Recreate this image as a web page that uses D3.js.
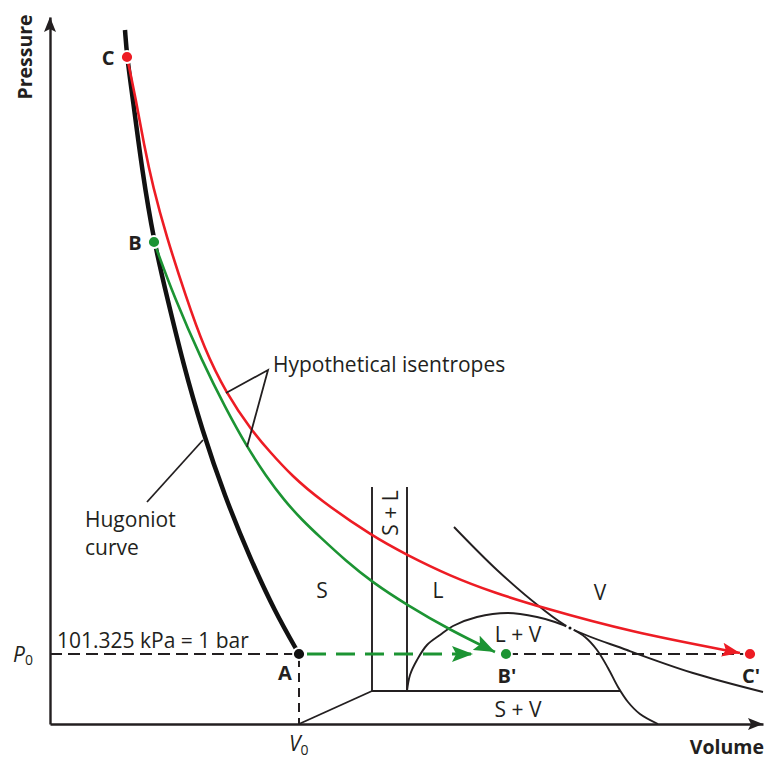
<!DOCTYPE html>
<html>
<head>
<meta charset="utf-8">
<script src="https://cdn.jsdelivr.net/npm/d3@7"></script>
<style>
  html, body { margin: 0; padding: 0; background: #fff; }
  svg { display: block; }
  text { font-family: "Open Sans", "Noto Sans", sans-serif; fill: #231f20; }
</style>
</head>
<body>
<div id="chart"></div>
<script>
// Schematic P–V diagram: Hugoniot curve, two release isentropes and the phase regions.
// Volume and pressure are in arbitrary units.

// Reference state A (ambient pressure P0, specific volume V0)
const P0 = 7.0;
const V0 = 24.9;

// Principal Hugoniot curve, ending at A
const hugoniot = [[7.5,69.4],[7.7,66.7],[8.3,62.4],[9.2,55.4],[10.4,48.2],[11.7,42.7],[13.3,36.1],
                  [15.2,29.4],[17.5,22.7],[20.0,16.6],[22.5,11.2],[V0,P0]];

// Release isentrope from C (red) and from B (green)
const isentropeC = [[7.7,66.7],[8.6,62.4],[9.4,57.9],[10.3,53.7],[11.6,48.9],[13.6,42.7],[15.4,37.6],
                    [17.6,33.1],[20.2,29.3],[22.0,27.2],[24.2,24.8],[27.0,22.4],[32.2,18.8],
                    [35.7,16.9],[40.0,14.8],[44.5,13.1],[49.0,11.7],[58.0,9.2],[69.0,7.1]];
const isentropeB = [[10.4,48.2],[12.4,42.7],[15.3,36.1],[17.5,31.7],[19.7,27.7],[21.6,24.8],
                    [23.4,22.4],[25.2,20.4],[27.0,18.7],[29.6,16.3],[32.2,14.2],[35.7,11.9],
                    [40.0,9.4],[44.5,7.2]];

// Named states
const states = [
  {name: "C",  v: 7.7,  p: 66.7, color: "#ed1c24", lv: 5.8,  lp: 65.9},
  {name: "B",  v: 10.4, p: 48.2, color: "#1c9433", lv: 8.5,  lp: 47.4},
  {name: "A",  v: V0,   p: P0,   color: "#111111", lv: 23.5, lp: 4.4},
  {name: "B'", v: 45.6, p: P0,   color: "#1c9433", lv: 45.7, lp: 4.1},
  {name: "C'", v: 70.0, p: P0,   color: "#ed1c24", lv: 70.1, lp: 4.1}
];

// Phase diagram
const criticalPoint = [52.0, 9.6];
const criticalIsotherm = [[40.4,19.7],[44.7,15.4],[49.0,11.7],criticalPoint,[57.7,7.4],[64.3,5.1],[71.3,3.2]];
const coexistenceDome = [[35.7,3.3],[36.0,4.9],[36.7,6.4],[37.7,7.9],[39.0,8.9],[40.3,9.8],[42.7,10.7],
                         [45.8,11.1],[48.7,10.7],[50.5,10.2],criticalPoint,[53.5,8.7],[54.7,7.4],
                         [55.8,5.6],[56.8,3.7],[57.8,2.2],[59.0,1.0],[60.8,0]];
const triplePressure = 3.3;
const meltingBounds = [32.2, 35.7];   // solidus / liquidus volumes
const meltingTop = 23.7;
const tripleLineEnd = 57.0;
const sublimation = [[V0,0],[32.2,3.3]];

const regionLabels = [
  {t: "S",     v: 27.2, p: 12.6},
  {t: "L",     v: 38.8, p: 12.6},
  {t: "V",     v: 55.0, p: 12.4},
  {t: "L + V", v: 46.8, p: 8.2},
  {t: "S + V", v: 46.8, p: 0.7}
];

// Annotation leaders
const isentropeLeader = [[17.6,33.1],[21.8,35.4],[19.7,27.7]];
const hugoniotLeader = [[9.7,22.2],[15.3,28.4]];

const width = 767, height = 759;
const RED = "#ed1c24", GREEN = "#1c9433", INK = "#231f20";

const x = d3.scaleLinear().domain([0, 71.3]).range([50, 763]);
const y = d3.scaleLinear().domain([0, 70.7]).range([724, 17]);

const svg = d3.select("#chart").append("svg")
  .attr("width", width).attr("height", height)
  .attr("viewBox", [0, 0, width, height]);

svg.append("rect").attr("width", width).attr("height", height).attr("fill", "#fff");

// Arrowhead markers
const defs = svg.append("defs");
function marker(id, color, len, half) {
  defs.append("marker")
    .attr("id", id)
    .attr("viewBox", `${-len} ${-half} ${len} ${2 * half}`)
    .attr("refX", 0).attr("refY", 0)
    .attr("markerWidth", len).attr("markerHeight", 2 * half)
    .attr("markerUnits", "userSpaceOnUse")
    .attr("orient", "auto")
    .append("path")
    .attr("d", `M${-len},${-half}L0,0L${-len},${half}L${-len * 0.8},0Z`)
    .attr("fill", color);
}
marker("arrow-red", RED, 18, 7);
marker("arrow-green", GREEN, 21, 8);

// Shock-state curves are drawn as smooth B-splines; phase boundaries pass through their points
const spline = d3.line().x(d => x(d[0])).y(d => y(d[1])).curve(d3.curveBasis);
const smooth = d3.line().x(d => x(d[0])).y(d => y(d[1])).curve(d3.curveCatmullRom.alpha(0.5));
const straight = d3.line().x(d => x(d[0])).y(d => y(d[1]));

// Axes (domain lines only) with arrowheads
svg.append("g").attr("transform", `translate(0,${y(0)})`)
  .call(d3.axisBottom(x).tickValues([]).tickSizeOuter(0));
svg.append("g").attr("transform", `translate(${x(0)},0)`)
  .call(d3.axisLeft(y).tickValues([]).tickSizeOuter(0));
svg.selectAll(".domain").attr("stroke", INK).attr("stroke-width", 2.4);

svg.append("path")
  .attr("d", `M${x(71.3)},${y(0)}l-15,-6l3,6l-3,6Z`).attr("fill", INK);
svg.append("path")
  .attr("d", `M${x(0)},${y(70.7)}l-6,15l6,-3l6,3Z`).attr("fill", INK);

// Phase boundaries
const phase = svg.append("g").attr("fill", "none").attr("stroke", INK).attr("stroke-width", 1.9);
meltingBounds.forEach(v => {
  phase.append("path").attr("d", straight([[v, triplePressure], [v, meltingTop]]));
});
phase.append("path").attr("d", straight([[meltingBounds[0], triplePressure], [tripleLineEnd, triplePressure]]));
phase.append("path").attr("d", straight(sublimation));
phase.append("path").attr("d", smooth(coexistenceDome));
phase.append("path").attr("d", smooth(criticalIsotherm));

// Ambient-pressure dashed line and V0 drop line
const dashed = svg.append("g").attr("fill", "none").attr("stroke", INK).attr("stroke-width", 2);
dashed.append("path").attr("d", straight([[0, P0], [V0, P0]])).attr("stroke-dasharray", "12,6");
dashed.append("path").attr("d", straight([[45.6, P0], [69.5, P0]])).attr("stroke-dasharray", "12,6");
dashed.append("path").attr("d", straight([[V0, P0], [V0, 0]])).attr("stroke-dasharray", "9,6")
  .attr("stroke-dashoffset", -4);

// Hugoniot
svg.append("path").attr("d", spline(hugoniot))
  .attr("fill", "none").attr("stroke", "#111").attr("stroke-width", 4.5);

// Isentropes
svg.append("path").attr("d", spline(isentropeC))
  .attr("fill", "none").attr("stroke", RED).attr("stroke-width", 2.6)
  .attr("marker-end", "url(#arrow-red)");
svg.append("path").attr("d", spline(isentropeB))
  .attr("fill", "none").attr("stroke", GREEN).attr("stroke-width", 2.6)
  .attr("marker-end", "url(#arrow-green)");

// Green dashed expansion path A → B'
svg.append("path").attr("d", straight([[V0 + 0.8, P0], [42.3, P0]]))
  .attr("fill", "none").attr("stroke", GREEN).attr("stroke-width", 3)
  .attr("stroke-dasharray", "19,10")
  .attr("marker-end", "url(#arrow-green)");

// Critical point
svg.append("circle").attr("cx", x(criticalPoint[0])).attr("cy", y(criticalPoint[1]))
  .attr("r", 2.8).attr("fill", "#111").attr("stroke", "#fff").attr("stroke-width", 2.5);

// Leader lines
const leaders = svg.append("g").attr("fill", "none").attr("stroke", INK).attr("stroke-width", 1.8);
leaders.append("path").attr("d", straight(isentropeLeader));
leaders.append("path").attr("d", straight(hugoniotLeader));

// State points
svg.append("g").selectAll("circle").data(states).join("circle")
  .attr("cx", d => x(d.v)).attr("cy", d => y(d.p))
  .attr("r", 6).attr("fill", d => d.color)
  .attr("stroke", "#fff").attr("stroke-width", 1.8);

svg.append("g").selectAll("text").data(states).join("text")
  .attr("x", d => x(d.lv)).attr("y", d => y(d.lp))
  .attr("text-anchor", "middle")
  .attr("font-size", 20).attr("font-weight", 700)
  .text(d => d.name);

// Region labels
svg.append("g").selectAll("text").data(regionLabels).join("text")
  .attr("x", d => x(d.v)).attr("y", d => y(d.p))
  .attr("text-anchor", "middle").attr("font-size", 21)
  .text(d => d.t);

svg.append("text")
  .attr("transform", `translate(${x((meltingBounds[0] + meltingBounds[1]) / 2) + 8},${y(21.1)}) rotate(-90)`)
  .attr("text-anchor", "middle").attr("font-size", 21)
  .text("S + L");

// Annotations
svg.append("text").attr("x", x(22.3)).attr("y", y(35.2)).attr("font-size", 21)
  .text("Hypothetical isentropes");
svg.append("text").attr("x", x(3.5)).attr("y", y(19.7)).attr("font-size", 21).text("Hugoniot");
svg.append("text").attr("x", x(3.5)).attr("y", y(16.9)).attr("font-size", 21).text("curve");
svg.append("text").attr("x", x(0.7)).attr("y", y(7.6)).attr("font-size", 21).text("101.325 kPa = 1 bar");

// Axis tick labels P0 and V0
const p0 = svg.append("text").attr("x", 13).attr("y", y(P0) + 8).attr("font-size", 21);
p0.append("tspan").attr("font-style", "italic").text("P");
p0.append("tspan").attr("font-size", 14).attr("dy", 3).text("0");

const v0 = svg.append("text").attr("x", x(V0) - 10).attr("y", 751).attr("font-size", 21);
v0.append("tspan").attr("font-style", "italic").text("V");
v0.append("tspan").attr("font-size", 14).attr("dy", 4).text("0");

// Axis titles
svg.append("text").attr("x", 764).attr("y", 754)
  .attr("text-anchor", "end").attr("font-size", 19.5).attr("font-weight", 700)
  .text("Volume");
svg.append("text").attr("transform", "translate(32,57) rotate(-90)")
  .attr("text-anchor", "middle").attr("font-size", 19.5).attr("font-weight", 700)
  .text("Pressure");
</script>
</body>
</html>
